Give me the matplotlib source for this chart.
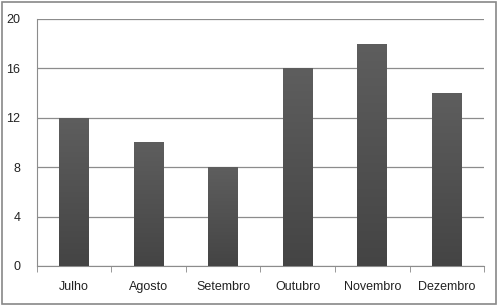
import numpy as np
import matplotlib
matplotlib.use('Agg')
import matplotlib.pyplot as plt
from matplotlib.patches import Rectangle

months = ['Julho', 'Agosto', 'Setembro', 'Outubro', 'Novembro', 'Dezembro']
values = [12, 10, 8, 16, 18, 14]
yticks = [0, 4, 8, 12, 16, 20]

plt.rcParams['font.family'] = ['Liberation Sans', 'DejaVu Sans']

fig = plt.figure(figsize=(4.99, 3.06), dpi=100)
ax = fig.add_axes([0.074, 0.131, 0.896, 0.807])

x = np.arange(len(months))
bars = ax.bar(x, values, width=0.4, color='#4e4e4e', zorder=3)

# vertical gradient on the bars, lighter at the top
grad = np.linspace(0, 1, 256).reshape(-1, 1)
cmap = matplotlib.colors.LinearSegmentedColormap.from_list('g', ['#444444', '#5e5e5e'])
for b in bars:
    im = ax.imshow(grad, extent=[b.get_x(), b.get_x() + b.get_width(), 0, b.get_height()],
                   origin='lower', aspect='auto', cmap=cmap, zorder=3)
    im.set_clip_path(b)

ax.set_xlim(-0.5, len(months) - 0.5)
ax.set_ylim(0, 20)
ax.set_yticks(yticks)
ax.set_xticks(x)
ax.set_xticklabels(months)
ax.set_xticks(np.arange(-0.5, len(months)), minor=True)
ax.tick_params(axis='x', which='major', length=0, pad=11, labelsize=9, colors='#222222')
ax.tick_params(axis='x', which='minor', length=4, color='#888888', direction='out')
ax.tick_params(axis='y', length=0, pad=12, labelsize=9, colors='#222222')

ax.grid(axis='y', color='#8c8c8c', linewidth=0.9, zorder=1)
for s in ['top', 'right']:
    ax.spines[s].set_visible(False)
ax.spines['left'].set_color('#8c8c8c')
ax.spines['bottom'].set_color('#8c8c8c')

fig.patches.append(Rectangle((0.004, 0.006), 0.99, 0.988, transform=fig.transFigure,
                             fill=False, edgecolor='#888888', linewidth=1.2))

fig.savefig('out.png', dpi=100)
